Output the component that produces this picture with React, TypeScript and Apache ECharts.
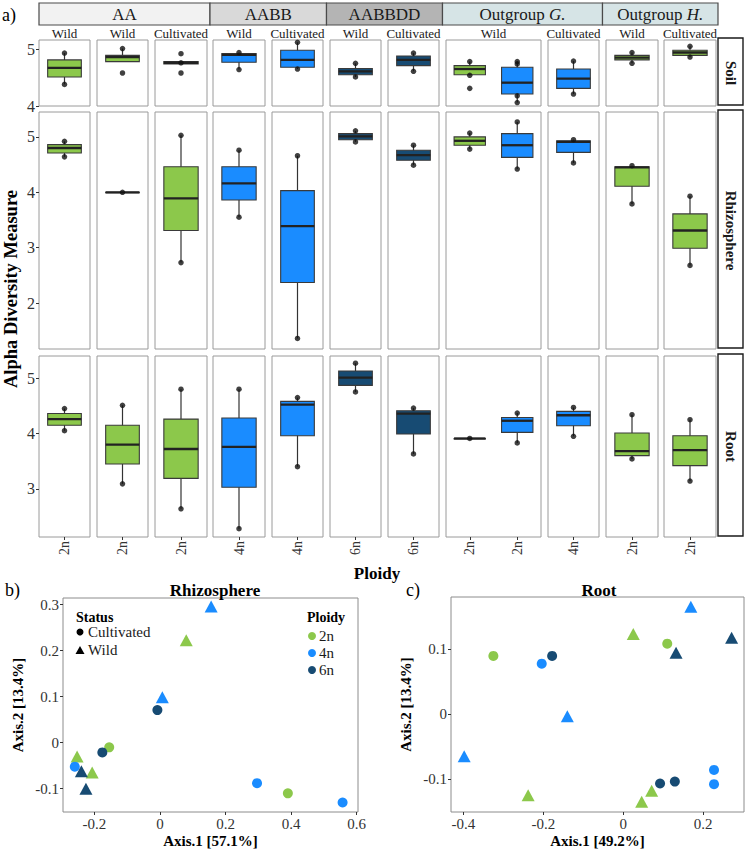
import React, { useEffect, useRef } from "react";
import * as echarts from "echarts";

const FONT = "Liberation Serif";

// ---------- Panel a) facet structure ----------
const groups = ["AA", "AABB", "AABBDD", "Outgroup G.", "Outgroup H."];
const groupSpans = [3, 2, 2, 2, 2];
const statusLabels = ["Wild", "Wild", "Cultivated", "Wild", "Cultivated", "Wild", "Cultivated", "Wild", "Cultivated", "Wild", "Cultivated"];
const panelTicks = [["2n"], ["2n"], ["2n"], ["4n"], ["4n"], ["6n"], ["6n"], ["2n", "2n"], ["4n"], ["2n"], ["2n"]];
const compartments = ["Soil", "Rhizosphere", "Root"];

// boxes (12): which panel, which slot in panel, colour key
const boxPanel = [0, 1, 2, 3, 4, 5, 6, 7, 7, 8, 9, 10];
const boxSlot = [0, 0, 0, 0, 0, 0, 0, 0, 1, 0, 0, 0];
const boxColorKeys = ["2n", "2n", "2n", "4n", "4n", "6n", "6n", "2n", "4n", "4n", "2n", "2n"];

// [min, q1, median, q3, max]
const soilStats = [
  [4.38, 4.51, 4.67, 4.81, 4.93],
  [4.78, 4.78, 4.86, 4.89, 5.01],
  [4.74, 4.74, 4.76, 4.78, 4.78],
  [4.64, 4.77, 4.9, 4.92, 4.94],
  [4.65, 4.68, 4.81, 4.98, 5.12],
  [4.51, 4.55, 4.61, 4.66, 4.75],
  [4.61, 4.71, 4.81, 4.88, 4.93],
  [4.54, 4.55, 4.65, 4.71, 4.78],
  [4.06, 4.21, 4.41, 4.68, 4.78],
  [4.21, 4.31, 4.48, 4.65, 4.79],
  [4.75, 4.81, 4.85, 4.89, 4.94],
  [4.86, 4.89, 4.94, 4.98, 5.05],
];
const rhizoStats = [
  [4.64, 4.71, 4.8, 4.86, 4.92],
  [4.0, 4.0, 4.0, 4.0, 4.0],
  [2.73, 3.31, 3.89, 4.46, 5.03],
  [3.55, 3.86, 4.16, 4.46, 4.76],
  [1.36, 2.37, 3.39, 4.03, 4.66],
  [4.91, 4.95, 5.01, 5.06, 5.11],
  [4.49, 4.58, 4.67, 4.76, 4.85],
  [4.78, 4.85, 4.93, 5.0, 5.07],
  [4.42, 4.63, 4.85, 5.06, 5.27],
  [4.53, 4.72, 4.91, 4.93, 4.95],
  [3.79, 4.11, 4.45, 4.46, 4.48],
  [2.68, 2.99, 3.31, 3.61, 3.93],
];
const rootStats = [
  [4.05, 4.15, 4.26, 4.36, 4.45],
  [3.09, 3.45, 3.8, 4.15, 4.51],
  [2.64, 3.19, 3.72, 4.26, 4.8],
  [2.28, 3.03, 3.76, 4.28, 4.8],
  [3.4, 3.96, 4.52, 4.58, 4.65],
  [4.75, 4.87, 5.01, 5.13, 5.27],
  [3.63, 3.99, 4.36, 4.41, 4.46],
  [3.91, 3.91, 3.91, 3.91, 3.91],
  [3.83, 4.02, 4.23, 4.29, 4.37],
  [3.95, 4.14, 4.33, 4.4, 4.47],
  [3.54, 3.6, 3.68, 4.01, 4.34],
  [3.14, 3.42, 3.7, 3.96, 4.25],
];

// sample points [boxIndex, value]
const soilPoints = [
  [0, 4.93], [0, 4.38], [1, 5.01], [1, 4.58], [2, 4.92], [2, 4.76], [2, 4.58],
  [3, 4.94], [3, 4.64], [4, 5.12], [4, 4.65], [5, 4.75], [5, 4.51], [6, 4.93], [6, 4.61],
  [7, 4.78], [7, 4.54], [7, 4.31], [8, 4.78], [8, 4.74], [8, 4.18], [8, 4.06],
  [9, 4.79], [9, 4.21], [10, 4.94], [10, 4.75], [11, 5.05], [11, 4.86],
];
const rhizoPoints = [
  [0, 4.92], [0, 4.64], [1, 4.0], [2, 5.03], [2, 2.73], [3, 4.76], [3, 3.55],
  [4, 4.66], [4, 1.36], [5, 5.11], [5, 4.91], [6, 4.85], [6, 4.49], [7, 5.07], [7, 4.78],
  [8, 5.27], [8, 4.42], [9, 4.95], [9, 4.53], [10, 4.48], [10, 3.79], [11, 3.93], [11, 2.68],
];
const rootPoints = [
  [0, 4.45], [0, 4.05], [1, 4.51], [1, 3.09], [2, 4.8], [2, 2.64], [3, 4.8], [3, 2.28],
  [4, 4.65], [4, 3.4], [5, 5.27], [5, 4.75], [6, 4.46], [6, 3.63], [7, 3.91],
  [8, 4.37], [8, 3.83], [9, 4.47], [9, 3.95], [10, 4.34], [10, 3.54], [11, 4.25], [11, 3.14],
];
const rowRange = [[4.0, 5.16], [1.17, 5.45], [2.13, 5.4]];
const rowTicks = [[4, 5], [2, 3, 4, 5], [3, 4, 5]];

// ---------- PCoA b) Rhizosphere ----------
const ploidyLevels = ["2n", "4n", "6n"];
const statusLevels = ["Cultivated", "Wild"];
const rhizoX = [0.156, 0.08, 0.007, -0.008, -0.155, -0.176, -0.253, -0.26, -0.24, -0.207, -0.226, 0.296, 0.39, 0.557];
const rhizoY = [0.296, 0.223, 0.099, 0.071, -0.01, -0.021, -0.03, -0.052, -0.062, -0.065, -0.1, -0.088, -0.11, -0.13];
const rhizoPloidy = ["4n", "2n", "4n", "6n", "2n", "6n", "2n", "4n", "6n", "2n", "6n", "4n", "2n", "4n"];
const rhizoStatus = ["Wild", "Wild", "Wild", "Cultivated", "Cultivated", "Cultivated", "Wild", "Cultivated", "Wild", "Wild", "Wild", "Cultivated", "Cultivated", "Cultivated"];
const rhizoXTicks = [-0.2, 0, 0.2, 0.4, 0.6];
const rhizoYTicks = [-0.1, 0, 0.1, 0.2, 0.3];

// ---------- PCoA c) Root ----------
const rootX = [0.169, 0.271, 0.025, 0.11, 0.132, -0.325, -0.204, -0.178, -0.14, -0.398, -0.238, 0.046, 0.071, 0.092, 0.129, 0.227, 0.227];
const rootY = [0.166, 0.118, 0.124, 0.109, 0.095, 0.09, 0.078, 0.09, -0.003, -0.065, -0.125, -0.135, -0.118, -0.107, -0.104, -0.086, -0.108];
const rootPloidy = ["4n", "6n", "2n", "2n", "6n", "2n", "4n", "6n", "4n", "4n", "2n", "2n", "2n", "6n", "6n", "4n", "4n"];
const rootStatus = ["Wild", "Wild", "Wild", "Cultivated", "Wild", "Cultivated", "Cultivated", "Cultivated", "Wild", "Wild", "Wild", "Wild", "Wild", "Cultivated", "Cultivated", "Cultivated", "Cultivated"];
const rootXTicks = [-0.4, -0.2, 0, 0.2];
const rootYTicks = [-0.1, 0, 0.1];

// ---------- styling / layout ----------
const palette: Record<string, string> = { "2n": "#8cc84b", "4n": "#1a8cff", "6n": "#174b73" };
const stripFills = ["#f2f2f2", "#d9d9d9", "#b4b4b4", "#d6e4e6", "#d6e4e6"];
const panelLeft = [39, 97, 155, 213, 272, 330, 388, 446, 548, 606, 664];
const panelWidth = [51, 51, 52, 52, 51, 51, 51, 95, 51, 52, 52];
const rowTop = [40, 112, 356];
const rowHeight = [66, 237, 181];

function txt(x: number, y: number, text: string, size: number, opts: any = {}) {
  return {
    type: "text", x, y, rotation: opts.rotation || 0,
    style: {
      text, fontSize: size, fontFamily: FONT, fontWeight: opts.bold ? "bold" : "normal",
      fill: opts.fill || "#1a1a1a", align: opts.align || "center", verticalAlign: "middle",
      rich: opts.rich,
    },
  };
}

function buildOption() {
  const grids: any[] = [];
  const xAxes: any[] = [];
  const yAxes: any[] = [];
  const series: any[] = [];
  const graphics: any[] = [];
  const statsByRow = [soilStats, rhizoStats, rootStats];
  const pointsByRow = [soilPoints, rhizoPoints, rootPoints];

  compartments.forEach((_, r) => {
    panelLeft.forEach((left, p) => {
      const gi = grids.length;
      grids.push({
        left, top: rowTop[r], width: panelWidth[p], height: rowHeight[r],
        show: true, backgroundColor: "#fff", borderColor: "#9a9a9a", borderWidth: 1,
      });
      xAxes.push({
        type: "category", gridIndex: gi, data: panelTicks[p], boundaryGap: true, position: "bottom",
        axisLine: { show: false, onZero: false }, splitLine: { show: false },
        axisTick: { show: r === 2, length: 3, alignWithLabel: true, lineStyle: { color: "#333" } },
        axisLabel: { show: r === 2, rotate: 90, fontSize: 14, fontFamily: FONT, color: "#333", margin: 4, interval: 0 },
      });
      yAxes.push({
        type: "value", gridIndex: gi, min: rowRange[r][0], max: rowRange[r][1], position: "left",
        axisLine: { show: false, onZero: false }, splitLine: { show: false },
        axisTick: { show: p === 0, length: 3, customValues: rowTicks[r], lineStyle: { color: "#333" } },
        axisLabel: { show: p === 0, customValues: rowTicks[r], fontSize: 16, fontFamily: FONT, color: "#333", margin: 4 },
      });
      const boxes = boxPanel.map((bp, i) => (bp === p ? i : -1)).filter((i) => i >= 0);
      const cols = boxes.map((i) => palette[boxColorKeys[i]]);
      series.push({
        type: "custom", xAxisIndex: gi, yAxisIndex: gi, z: 2,
        data: boxes.map((i) => [boxSlot[i], ...statsByRow[r][i]]),
        encode: { x: 0, y: [1, 2, 3, 4, 5] },
        renderItem: (params: any, api: any) => {
          const x = api.value(0);
          const lo = api.coord([x, api.value(1)]);
          const q1 = api.coord([x, api.value(2)]);
          const med = api.coord([x, api.value(3)]);
          const q3 = api.coord([x, api.value(4)]);
          const hi = api.coord([x, api.value(5)]);
          const bw = api.size([1, 0])[0] * 0.66;
          const color = cols[params.dataIndex];
          return {
            type: "group",
            children: [
              { type: "line", shape: { x1: lo[0], y1: lo[1], x2: hi[0], y2: hi[1] }, style: { stroke: "#333", lineWidth: 1.2 } },
              { type: "rect", shape: { x: q3[0] - bw / 2, y: q3[1], width: bw, height: Math.max(q1[1] - q3[1], 0.5) }, style: { fill: color, stroke: "#3a3a3a", lineWidth: 1.1 } },
              { type: "line", shape: { x1: med[0] - bw / 2, y1: med[1], x2: med[0] + bw / 2, y2: med[1] }, style: { stroke: "#222", lineWidth: 2.3 } },
            ],
          };
        },
      });
      series.push({
        type: "scatter", xAxisIndex: gi, yAxisIndex: gi, z: 5, symbol: "circle", symbolSize: 5.5,
        itemStyle: { color: "#111" },
        data: pointsByRow[r].filter((pt) => boxPanel[pt[0]] === p).map((pt) => [boxSlot[pt[0]], pt[1]]),
      });
    });
  });

  // header strips
  let start = 0;
  groups.forEach((g, gi) => {
    const first = start;
    const last = start + groupSpans[gi] - 1;
    start += groupSpans[gi];
    const x0 = first === 0 ? panelLeft[0] : (panelLeft[first - 1] + panelWidth[first - 1] + panelLeft[first]) / 2;
    const x1 = last === panelLeft.length - 1 ? 718 : (panelLeft[last] + panelWidth[last] + panelLeft[last + 1]) / 2;
    graphics.push({ type: "rect", shape: { x: x0, y: 3, width: x1 - x0, height: 22 }, style: { fill: stripFills[gi], stroke: "#4a4a4a", lineWidth: 1.2 } });
    const parts = g.split(" ");
    const text = parts.length > 1 ? `${parts[0]} {i|${parts[1]}}` : g;
    graphics.push(txt((x0 + x1) / 2, 14.5, text, 17, {
      rich: { i: { fontSize: 17, fontFamily: FONT, fontStyle: "italic", fill: "#1a1a1a" } },
    }));
  });
  statusLabels.forEach((s, p) => {
    graphics.push(txt(panelLeft[p] + panelWidth[p] / 2, 33, s, 13));
  });
  compartments.forEach((c, r) => {
    graphics.push({ type: "rect", shape: { x: 718, y: rowTop[r] - 2, width: 25, height: rowHeight[r] + 1 }, style: { fill: "#fff", stroke: "#1a1a1a", lineWidth: 1.4 } });
    graphics.push(txt(730.5, rowTop[r] + rowHeight[r] / 2, c, 15, { bold: true, rotation: -Math.PI / 2 }));
  });
  graphics.push(txt(11, 289, "Alpha Diversity Measure", 18.5, { bold: true, rotation: Math.PI / 2, fill: "#000" }));
  graphics.push(txt(377, 573, "Ploidy", 17, { bold: true, fill: "#000" }));
  graphics.push(txt(2, 15, "a)", 18, { align: "left", fill: "#000" }));
  graphics.push(txt(5, 590, "b)", 18, { align: "left", fill: "#000" }));
  graphics.push(txt(406, 590, "c)", 18, { align: "left", fill: "#000" }));

  // legends in b)
  graphics.push(txt(76, 617, "Status", 14, { bold: true, align: "left", fill: "#000" }));
  statusLevels.forEach((s, i) => {
    const y = 632 + i * 18;
    if (s === "Wild") {
      graphics.push({ type: "polygon", shape: { points: [[80, y - 4], [75.5, y + 4], [84.5, y + 4]] }, style: { fill: "#000" } });
    } else {
      graphics.push({ type: "circle", shape: { cx: 80, cy: y, r: 3.5 }, style: { fill: "#000" } });
    }
    graphics.push(txt(88, y, s, 15, { align: "left" }));
  });
  graphics.push(txt(307, 617, "Ploidy", 14, { bold: true, align: "left", fill: "#000" }));
  ploidyLevels.forEach((pl, i) => {
    const y = 636 + i * 17;
    graphics.push({ type: "circle", shape: { cx: 312, cy: y, r: 4 }, style: { fill: palette[pl] } });
    graphics.push(txt(319, y, pl, 15, { align: "left" }));
  });

  // PCoA grids
  const pcoa = [
    { grid: { left: 63, top: 598, width: 295, height: 214 }, xr: [-0.296, 0.604], yr: [-0.1506, 0.3146], xt: rhizoXTicks, yt: rhizoYTicks, xn: "Axis.1 [57.1%]", yn: "Axis.2 [13.4%]", X: rhizoX, Y: rhizoY, P: rhizoPloidy, S: rhizoStatus },
    { grid: { left: 451, top: 597, width: 293, height: 215 }, xr: [-0.431, 0.302], yr: [-0.151, 0.181], xt: rootXTicks, yt: rootYTicks, xn: "Axis.1 [49.2%]", yn: "Axis.2 [13.4%]", X: rootX, Y: rootY, P: rootPloidy, S: rootStatus },
  ];
  const axisLabelStyle = { fontSize: 15, fontFamily: FONT, color: "#333", margin: 4 };
  const nameStyle = { fontSize: 15, fontWeight: "bold", fontFamily: FONT, color: "#000" };
  pcoa.forEach((pc) => {
    const gi = grids.length;
    grids.push({ ...pc.grid, show: true, backgroundColor: "#fff", borderColor: "#8c8c8c", borderWidth: 1 });
    xAxes.push({
      type: "value", gridIndex: gi, min: pc.xr[0], max: pc.xr[1], position: "bottom",
      axisLine: { show: false, onZero: false }, splitLine: { show: false },
      axisTick: { show: true, length: 3, customValues: pc.xt, lineStyle: { color: "#333" } },
      axisLabel: { ...axisLabelStyle, customValues: pc.xt },
      name: pc.xn, nameLocation: "middle", nameGap: 21, nameTextStyle: nameStyle,
    });
    yAxes.push({
      type: "value", gridIndex: gi, min: pc.yr[0], max: pc.yr[1], position: "left",
      axisLine: { show: false, onZero: false }, splitLine: { show: false },
      axisTick: { show: true, length: 3, customValues: pc.yt, lineStyle: { color: "#333" } },
      axisLabel: { ...axisLabelStyle, customValues: pc.yt },
      name: pc.yn, nameLocation: "middle", nameGap: 38, nameRotate: 90, nameTextStyle: nameStyle,
    });
    ploidyLevels.forEach((pl) => {
      const idx = pc.P.map((v, i) => (v === pl ? i : -1)).filter((i) => i >= 0);
      series.push({
        type: "scatter", name: pl, xAxisIndex: gi, yAxisIndex: gi, z: 4,
        itemStyle: { color: palette[pl], opacity: 1 },
        data: idx.map((i) => ({
          value: [pc.X[i], pc.Y[i]],
          symbol: pc.S[i] === "Wild" ? "triangle" : "circle",
          symbolSize: pc.S[i] === "Wild" ? [13, 12] : 10,
        })),
      });
    });
  });

  return {
    animation: false,
    backgroundColor: "#fff",
    textStyle: { fontFamily: FONT },
    title: [
      { text: "Rhizosphere", left: 210, top: 577, textAlign: "center", textStyle: { fontSize: 17, fontWeight: "bold", fontFamily: FONT, color: "#000" } },
      { text: "Root", left: 594, top: 577, textAlign: "center", textStyle: { fontSize: 17, fontWeight: "bold", fontFamily: FONT, color: "#000" } },
    ],
    grid: grids,
    xAxis: xAxes,
    yAxis: yAxes,
    series,
    graphic: graphics,
  };
}

export default function App() {
  const ref = useRef<HTMLDivElement>(null);
  useEffect(() => {
    const chart = echarts.init(ref.current!, null, { renderer: "svg" });
    chart.setOption(buildOption() as any);
    return () => chart.dispose();
  }, []);
  return <div ref={ref} style={{ position: "fixed", left: 0, top: 0, width: 750, height: 850, background: "#fff" }} />;
}
